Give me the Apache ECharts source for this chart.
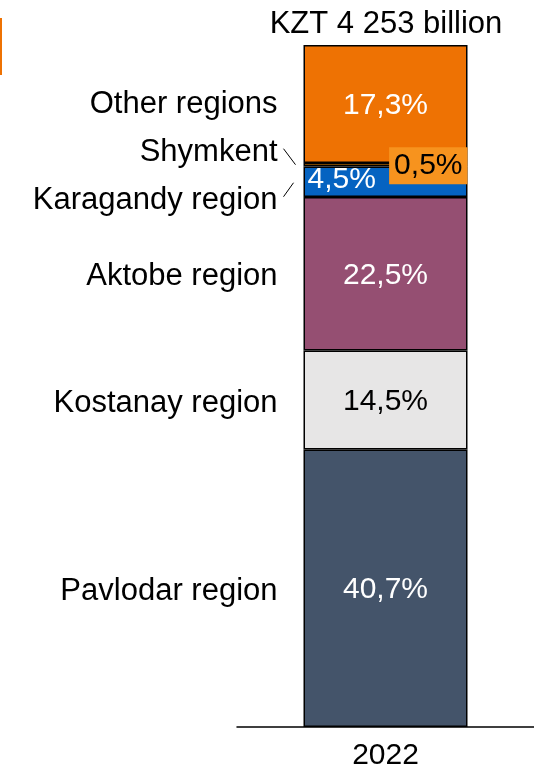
<!DOCTYPE html>
<html>
<head>
<meta charset="utf-8">
<script src="https://cdn.jsdelivr.net/npm/echarts@6/dist/echarts.min.js"></script>
<style>
  html, body { margin: 0; padding: 0; background: #fff; }
  #main { width: 534px; height: 773px; }
</style>
</head>
<body>
<div id="main"></div>
<script>
// data, bottom segment first
var years = ['2022'];
var regions = ['Pavlodar region', 'Kostanay region', 'Aktobe region', 'Karagandy region', 'Shymkent', 'Other regions'];
var shares = [40.7, 14.5, 22.5, 4.5, 0.5, 17.3];
var totalText = 'KZT 4 253 billion';

var colors = ['#44546A', '#E7E6E6', '#954F72', '#0563C1', '#F08A00', '#EE7203'];
var labelColors = ['#fff', '#000', '#fff', '#fff', '#000', '#fff'];
var FONT = '"Liberation Sans", Arial, sans-serif';

function pct(v) {
  return v.toFixed(1).replace('.', ',') + '%';
}

var myChart = echarts.init(document.getElementById('main'));

var series = regions.map(function (name, i) {
  var label = {
    show: true,
    position: 'inside',
    offset: [0, 2],
    color: labelColors[i],
    fontSize: 30,
    fontFamily: FONT,
    formatter: function () { return pct(shares[i]); }
  };
  if (name === 'Shymkent') {
    label.position = 'insideRight';
    label.distance = 0;
    label.backgroundColor = '#F7931E';
    label.padding = [4, 5, 3, 5];
    label.offset = [0, 1];
  }
  if (name === 'Karagandy region') {
    label.position = 'insideLeft';
    label.distance = 4;
    label.offset = [0, -2];
  }
  return {
    name: name,
    type: 'bar',
    stack: 'total',
    barWidth: 164,
    data: [shares[i]],
    itemStyle: { color: colors[i], borderColor: '#000', borderWidth: 1.5 },
    label: label,
    z: name === 'Shymkent' ? 3 : 2
  };
});

// category names on the left of the bar, at the middle of each segment
var mids = [];
var acc = 0;
shares.forEach(function (v) { mids.push(acc + v / 2); acc += v; });
var nameOffsets = { 'Shymkent': -12, 'Karagandy region': 19, 'Other regions': 0 };

series.push({
  type: 'scatter',
  symbolSize: 0,
  silent: true,
  itemStyle: { color: '#000', opacity: 1 },
  data: regions.map(function (name, i) {
    return {
      value: [years[0], mids[i]],
      label: { offset: [0, name in nameOffsets ? nameOffsets[name] : 3], color: '#000' }
    };
  }),
  label: {
    show: true,
    position: 'left',
    distance: 108,
    color: '#000',
    fontSize: 31,
    fontFamily: FONT,
    formatter: function (p) { return regions[p.dataIndex]; }
  },
  emphasis: { disabled: true },
  z: 4
});

var option = {
  animation: false,
  title: {
    text: totalText,
    left: 381,
    top: 4,
    textAlign: 'center',
    textStyle: { color: '#000', fontSize: 31, fontWeight: 'normal', fontFamily: FONT }
  },
  grid: { left: 237, right: 0, top: 45, bottom: 46 },
  xAxis: {
    type: 'category',
    data: years,
    axisLine: { lineStyle: { color: '#000', width: 1.5 } },
    axisTick: { show: false },
    axisLabel: { color: '#000', fontSize: 30, fontFamily: FONT, margin: 14 }
  },
  yAxis: {
    type: 'value',
    min: 0,
    max: 100,
    show: false
  },
  series: series
};

myChart.setOption(option);

// short leader lines for the two small segments
var pShym = myChart.convertToPixel({ gridIndex: 0 }, [years[0], mids[4]]);
var pKar = myChart.convertToPixel({ gridIndex: 0 }, [years[0], mids[3]]);
var barLeft = pShym[0] - 82;
myChart.setOption({
  graphic: [
    { type: 'rect', shape: { x: 0, y: 18, width: 2, height: 57 }, style: { fill: '#EE7203' } },
    { type: 'line', shape: { x1: barLeft - 20, y1: pShym[1] - 16, x2: barLeft - 8, y2: pShym[1] }, style: { stroke: '#000', lineWidth: 1 } },
    { type: 'line', shape: { x1: barLeft - 20, y1: pKar[1] + 15, x2: barLeft - 10, y2: pKar[1] + 1 }, style: { stroke: '#000', lineWidth: 1 } }
  ]
});
</script>
</body>
</html>
